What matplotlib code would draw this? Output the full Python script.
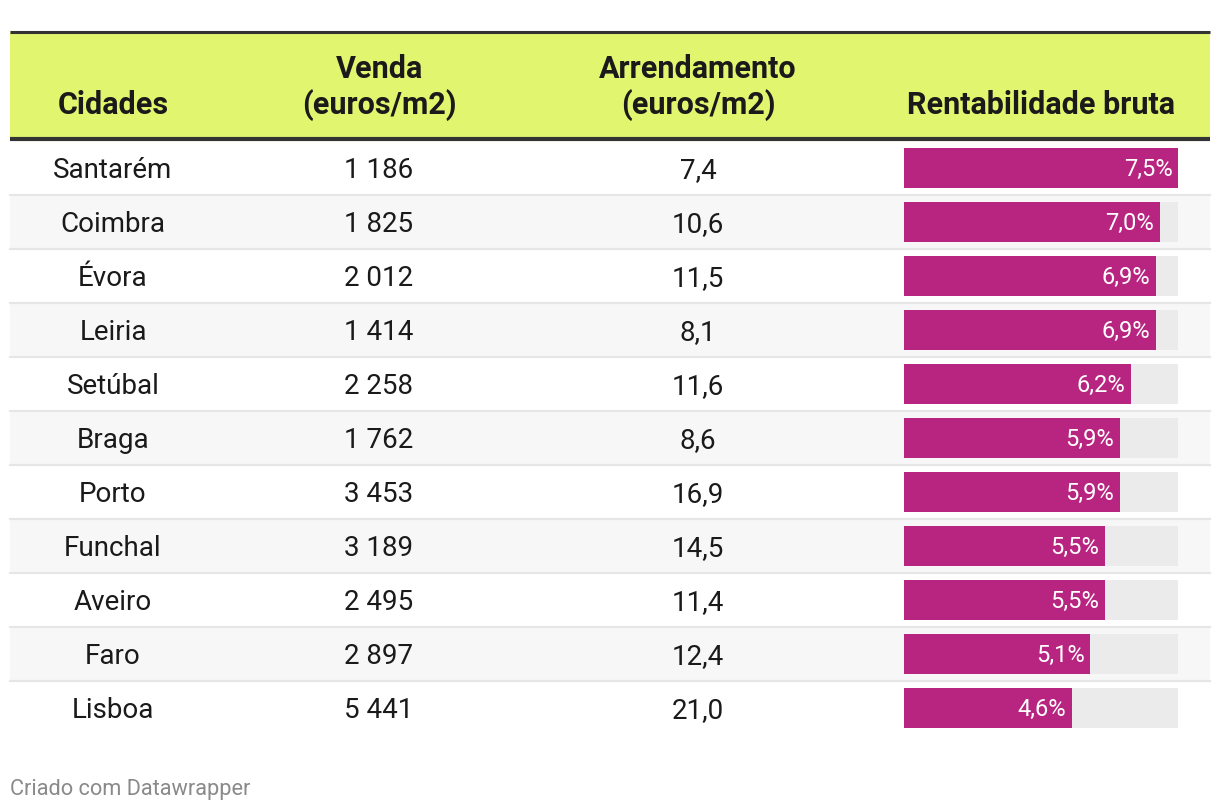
import matplotlib
matplotlib.use("Agg")
import matplotlib.pyplot as plt
from matplotlib.patches import Rectangle

cidades = ["Santarém", "Coimbra", "Évora", "Leiria", "Setúbal", "Braga",
           "Porto", "Funchal", "Aveiro", "Faro", "Lisboa"]
venda = [1186, 1825, 2012, 1414, 2258, 1762, 3453, 3189, 2495, 2897, 5441]
arrendamento = [7.4, 10.6, 11.5, 8.1, 11.6, 8.6, 16.9, 14.5, 11.4, 12.4, 21.0]
rentabilidade = [7.5, 7.0, 6.9, 6.9, 6.2, 5.9, 5.9, 5.5, 5.5, 5.1, 4.6]
headers = ["Cidades", "Venda\n(euros/m2)", "Arrendamento\n(euros/m2)", "Rentabilidade bruta"]

plt.rcParams['font.family'] = ['Roboto', 'DejaVu Sans']

W, H = 1220, 810
fig = plt.figure(figsize=(W / 100, H / 100), dpi=100)
fig.patch.set_facecolor("white")
ax = fig.add_axes([0, 0, 1, 1])
ax.set_xlim(0, W)
ax.set_ylim(H, 0)
ax.axis("off")

left, right = 10, 1210
head_top, head_bot = 31, 139
row0, rh = 141, 54
n = len(cidades)

# header
ax.add_patch(Rectangle((left, head_top), right - left, head_bot - head_top,
                       facecolor="#e2f56f", edgecolor="none"))
ax.plot([left, right], [head_top + 1, head_top + 1], color="#333333", lw=2.2, solid_capstyle="butt")
ax.plot([left, right], [head_bot, head_bot], color="#333333", lw=3.0, solid_capstyle="butt")

col_x = [113, 379, 698, 1041]
hfs = 22
for x, h in zip(col_x, headers):
    lines = h.split("\n")
    if len(lines) == 1:
        ax.text(x, 105, lines[0], ha="center", va="center", fontsize=hfs,
                fontweight="bold", color="#1a1a1a")
    else:
        ax.text(x, 69, lines[0], ha="center", va="center", fontsize=hfs,
                fontweight="bold", color="#1a1a1a")
        ax.text(x, 105, lines[1], ha="center", va="center", fontsize=hfs,
                fontweight="bold", color="#1a1a1a")

def fmt_int(v):
    return f"{v:,}".replace(",", " ")

def fmt_dec(v):
    return f"{v:.1f}".replace(".", ",")

bfs = 20
for i in range(n):
    y0 = row0 + i * rh
    if i % 2 == 1:
        ax.add_patch(Rectangle((left, y0), right - left, rh, facecolor="#f7f7f7",
                               edgecolor="none"))
    if i < n - 1:
        ax.plot([left, right], [y0 + rh, y0 + rh], color="#e6e6e6", lw=1.6)
    yc = y0 + rh / 2 + 3
    ax.text(col_x[0], yc, cidades[i], ha="center", va="center", fontsize=bfs, color="#1a1a1a")
    ax.text(col_x[1], yc, fmt_int(venda[i]), ha="center", va="center", fontsize=bfs, color="#1a1a1a")
    ax.text(col_x[2], yc, fmt_dec(arrendamento[i]), ha="center", va="center", fontsize=bfs, color="#1a1a1a")

# bar column
bx0, bx1 = 904, 1178
bax = fig.add_axes([bx0 / W, (H - (row0 + n * rh)) / H, (bx1 - bx0) / W, n * rh / H])
bax.set_xlim(0, max(rentabilidade))
bax.set_ylim(n, 0)
bax.axis("off")
bax.patch.set_alpha(0)
ypos = [i + 0.5 for i in range(n)]
bh = 40 / 54
bax.barh(ypos, [max(rentabilidade)] * n, height=bh, color="#ebebeb", edgecolor="none")
bax.barh(ypos, rentabilidade, height=bh, color="#b82581", edgecolor="none")
for y, v in zip(ypos, rentabilidade):
    bax.annotate(fmt_dec(v) + "%", (v, y), xytext=(-4, -1), textcoords="offset points",
                 ha="right", va="center", fontsize=17, color="white")

ax.text(left, 789, "Criado com Datawrapper", ha="left", va="center", fontsize=15.7, color="#8a8a8a")

fig.savefig("out.png", dpi=100, facecolor="white")
